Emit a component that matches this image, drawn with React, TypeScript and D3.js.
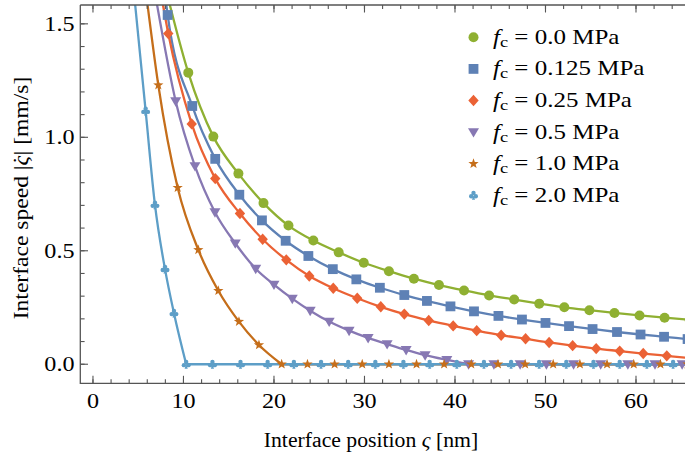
import React from 'react';
import * as d3 from 'd3';

const W = 685;
const H = 457;

// ---- data ----
const seriesLabels = ['0.0', '0.125', '0.25', '0.5', '1.0', '2.0'];
const seriesColors = ['#8FB032', '#5E81B5', '#EB6235', '#8778B3', '#C56E1A', '#5D9EC7'];
const seriesShapes = ['circle', 'square', 'diamond', 'triangle', 'star', 'club'];

const fc00: [number, number][] = [
  [10.53, 1.285], [13.3, 1.003], [16.07, 0.84], [18.84, 0.71], [21.6, 0.611], [24.35, 0.545],
  [27.15, 0.493], [29.92, 0.447], [32.7, 0.41], [35.46, 0.377], [38.23, 0.349], [41.0, 0.325],
  [43.77, 0.303], [46.54, 0.285], [49.31, 0.267], [52.08, 0.251], [54.85, 0.238], [57.62, 0.226],
  [60.39, 0.215], [63.16, 0.205], [65.93, 0.196],
];
const fc0125: [number, number][] = [
  [8.25, 1.539], [10.97, 1.138], [13.51, 0.905], [16.17, 0.747], [18.67, 0.634], [21.29, 0.544],
  [23.8, 0.477], [26.5, 0.419], [29.1, 0.374], [31.7, 0.337], [34.4, 0.305], [36.9, 0.279],
  [39.5, 0.255], [42.1, 0.233], [44.8, 0.213], [47.4, 0.197], [50.0, 0.182], [52.6, 0.168],
  [55.2, 0.155], [57.9, 0.142], [60.5, 0.131], [63.1, 0.121], [65.7, 0.111],
];
const fc025: [number, number][] = [
  [8.32, 1.457], [10.91, 1.059], [13.51, 0.818], [16.24, 0.664], [18.75, 0.551], [21.36, 0.46],
  [23.9, 0.389], [26.55, 0.335], [29.2, 0.291], [31.8, 0.253], [34.4, 0.221], [37.1, 0.193],
  [39.8, 0.169], [42.4, 0.148], [45.1, 0.128], [47.8, 0.112], [50.4, 0.096], [53.0, 0.082],
  [55.6, 0.069], [58.2, 0.058], [60.8, 0.047], [63.4, 0.037], [66.0, 0.027],
];
const fc05: [number, number][] = [
  [9.14, 1.159], [11.27, 0.873], [13.48, 0.67], [15.72, 0.533], [17.98, 0.421], [20.0, 0.351],
  [22.02, 0.289], [24.0, 0.236], [26.1, 0.188], [28.3, 0.148], [30.4, 0.116], [32.5, 0.089],
  [34.6, 0.063], [36.7, 0.04], [39.1, 0.019], [41.5, 0], [44.3, 0], [47.2, 0], [50.1, 0],
  [53.1, 0], [56.1, 0], [59.1, 0], [62.1, 0], [65.1, 0], [68.0, 0],
];
const fc10: [number, number][] = [
  [7.22, 1.23], [9.36, 0.778], [11.64, 0.504], [13.85, 0.324], [16.13, 0.188], [18.34, 0.085],
  [20.85, 0], [23.7, 0], [26.7, 0], [29.75, 0], [32.7, 0], [35.75, 0], [38.8, 0], [41.8, 0],
  [44.75, 0], [47.75, 0], [50.85, 0], [53.8, 0], [56.8, 0], [59.75, 0], [62.7, 0], [65.7, 0],
];
const fc20: [number, number][] = [
  [5.82, 1.116], [6.85, 0.702], [7.96, 0.419], [8.95, 0.225], [10.3, 0], [13.2, 0], [16.3, 0],
  [19.3, 0], [22.2, 0], [25.2, 0], [28.2, 0], [31.2, 0], [34.3, 0], [37.2, 0], [40.2, 0],
  [43.2, 0], [46.2, 0], [49.3, 0], [52.3, 0], [55.3, 0], [58.2, 0], [61.2, 0], [64.1, 0], [67.1, 0],
];
// x where each curve leaves the top of the frame
const topExitX = [8.43, 8.07, 7.69, 7.04, 6.0, 4.64];

const seriesData = [fc00, fc0125, fc025, fc05, fc10, fc20];

const xTicks = [0, 10, 20, 30, 40, 50, 60, 70];
const yTicks = [0, 0.5, 1.0, 1.5];
const xMinor = d3.range(0, 70.01, 2);
const yMinor = d3.range(0, 1.501, 0.1);

const X_DOMAIN: [number, number] = [-1.4, 70];
const Y_DOMAIN: [number, number] = [-0.084, 1.583];

// ---- layout ----
const L = 80.3, T = 5, B = 383.3, R = 726.5;
const FONT = '"Liberation Serif", "Times New Roman", serif';
const AXIS = '#555';

const x = d3.scaleLinear().domain(X_DOMAIN).range([L, R]);
const y = d3.scaleLinear().domain(Y_DOMAIN).range([B, T]);

function Marker({ shape, cx, cy, color }: { shape: string; cx: number; cy: number; color: string }) {
  const tr = `translate(${cx},${cy})`;
  switch (shape) {
    case 'circle':
      return <circle cx={cx} cy={cy} r={5} fill={color} />;
    case 'square':
      return <rect x={cx - 4.9} y={cy - 4.9} width={9.8} height={9.8} fill={color} />;
    case 'diamond':
      return <path transform={tr} d="M0,-5.7L5.2,0L0,5.7L-5.2,0Z" fill={color} />;
    case 'triangle':
      return <path transform={tr} d="M-5.5,-3.9L5.5,-3.9L0,5.5Z" fill={color} />;
    case 'star': {
      const pts: string[] = [];
      for (let i = 0; i < 10; i++) {
        const r = i % 2 === 0 ? 5.4 : 2.2;
        const a = -Math.PI / 2 + (i * Math.PI) / 5;
        pts.push(`${(r * Math.cos(a)).toFixed(2)},${(r * Math.sin(a)).toFixed(2)}`);
      }
      return <path transform={tr} d={'M' + pts.join('L') + 'Z'} fill={color} />;
    }
    case 'club':
      return (
        <g transform={tr} fill={color}>
          <circle cx={0} cy={-2.3} r={2.2} />
          <circle cx={-2.3} cy={0.9} r={2.2} />
          <circle cx={2.3} cy={0.9} r={2.2} />
          <path d="M0,0L-1.6,4.4L1.6,4.4Z" />
        </g>
      );
    default:
      return null;
  }
}

function SText(props: {
  x: number; y: number; size: number; sx?: number; anchor?: string; rotate?: boolean; children: React.ReactNode;
}) {
  const { x: tx, y: ty, size, sx = 1.15, anchor = 'start', rotate = false, children } = props;
  return (
    <text
      transform={`translate(${tx},${ty})${rotate ? ' rotate(-90)' : ''} scale(${sx},1)`}
      fontFamily={FONT}
      fontSize={size}
      textAnchor={anchor as any}
      fill="#000"
    >
      {children}
    </text>
  );
}

export default function App() {
  const curve = d3.line<[number, number]>().x((d) => x(d[0])).y((d) => y(d[1])).curve(d3.curveMonotoneX);
  const straight = d3.line<[number, number]>().x((d) => x(d[0])).y((d) => y(d[1]));

  const lines = seriesData.map((pts, i) => {
    const iz = pts.findIndex((p) => p[1] === 0);
    const decay: [number, number][] = [[topExitX[i], Y_DOMAIN[1] + 0.01], ...(iz >= 0 ? pts.slice(0, iz + 1) : pts)];
    const flat = iz >= 0 ? pts.slice(iz) : [];
    return { decay: curve(decay) || '', flat: flat.length > 1 ? straight(flat) || '' : '' };
  });

  const legendY0 = 37.3;
  const legendDy = 31.6;

  return (
    <svg width={W} height={H} style={{ position: 'absolute', left: 0, top: 0, background: '#fff' }}>
      <defs>
        <clipPath id="plot">
          <rect x={L} y={T} width={R - L} height={B - T} />
        </clipPath>
      </defs>
      <rect x={0} y={0} width={W} height={H} fill="#fff" />

      {/* curves */}
      <g clipPath="url(#plot)" fill="none" strokeWidth={2.3} strokeLinejoin="round">
        {lines.map((l, i) => (
          <g key={i} stroke={seriesColors[i]}>
            <path d={l.decay} />
            {l.flat && <path d={l.flat} />}
          </g>
        ))}
      </g>

      {/* markers */}
      <g clipPath="url(#plot)">
        {seriesData.map((pts, i) =>
          pts.map((p, j) => (
            <Marker key={`${i}-${j}`} shape={seriesShapes[i]} cx={x(p[0])} cy={y(p[1])} color={seriesColors[i]} />
          ))
        )}
      </g>

      {/* frame */}
      <g stroke={AXIS} strokeWidth={1.3} fill="none">
        <line x1={L} y1={T} x2={L} y2={B + 0.6} />
        <line x1={L} y1={B} x2={R} y2={B} />
        <line x1={L} y1={T} x2={R} y2={T} />
      </g>
      <g stroke={AXIS} strokeWidth={1.1}>
        {xMinor.map((v) => (
          <g key={`xm${v}`}>
            <line x1={x(v)} x2={x(v)} y1={B} y2={B - 4} />
            <line x1={x(v)} x2={x(v)} y1={T} y2={T + 4} />
          </g>
        ))}
        {xTicks.map((v) => (
          <g key={`xM${v}`}>
            <line x1={x(v)} x2={x(v)} y1={B} y2={B - 7.5} />
            <line x1={x(v)} x2={x(v)} y1={T} y2={T + 7.5} />
          </g>
        ))}
        {yMinor.map((v) => (
          <line key={`ym${v}`} x1={L} x2={L + 4.3} y1={y(v)} y2={y(v)} />
        ))}
        {yTicks.map((v) => (
          <line key={`yM${v}`} x1={L} x2={L + 7.7} y1={y(v)} y2={y(v)} />
        ))}
      </g>

      {/* tick labels */}
      {xTicks.filter((v) => v <= 60).map((v) => (
        <SText key={`xl${v}`} x={x(v)} y={408} size={21} anchor="middle">
          {String(v)}
        </SText>
      ))}
      {yTicks.map((v) => (
        <SText key={`yl${v}`} x={74.5} y={y(v) + 7} size={21} anchor="end">
          {v.toFixed(1)}
        </SText>
      ))}

      {/* axis titles */}
      <SText x={371} y={447} size={20.5} anchor="middle" sx={1.06}>
        Interface position <tspan fontStyle="italic">ς</tspan> [nm]
      </SText>
      <SText x={28} y={198} size={20.5} anchor="middle" rotate sx={1.15}>
        Interface speed |<tspan fontStyle="italic">ς</tspan>
        <tspan dx={-7.2}>˙</tspan>
        <tspan dx={0.8}>|</tspan> [mm/s]
      </SText>

      {/* legend */}
      {seriesLabels.map((lab, i) => {
        const ly = legendY0 + i * legendDy;
        return (
          <g key={`lg${i}`}>
            <Marker shape={seriesShapes[i]} cx={473.5} cy={ly} color={seriesColors[i]} />
            <SText x={493} y={ly + 6.5} size={20.5} sx={1.22}>
              <tspan fontStyle="italic">f</tspan>
              <tspan fontSize={15} dy={3}>c</tspan>
              <tspan dy={-3}>{` = ${lab} MPa`}</tspan>
            </SText>
          </g>
        );
      })}
    </svg>
  );
}
